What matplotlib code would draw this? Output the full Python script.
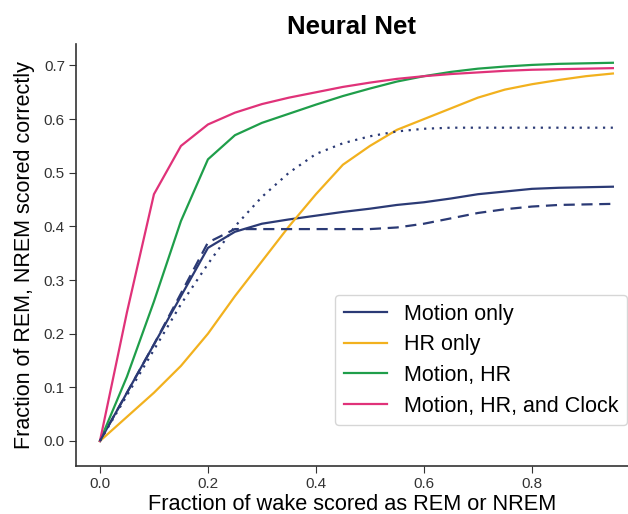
import matplotlib
matplotlib.use("Agg")
import matplotlib.pyplot as plt

plt.rcParams['font.family'] = ['Liberation Sans', 'DejaVu Sans']

x = [0.0, 0.05, 0.1, 0.15, 0.2, 0.25, 0.3, 0.35, 0.4, 0.45, 0.5,
     0.55, 0.6, 0.65, 0.7, 0.75, 0.8, 0.85, 0.9, 0.95]

motion_only = [0.0, 0.09, 0.18, 0.27, 0.36, 0.39, 0.405, 0.413, 0.42, 0.427, 0.433,
               0.44, 0.445, 0.452, 0.46, 0.465, 0.47, 0.472, 0.473, 0.474]
motion_dashed = [0.0, 0.09, 0.18, 0.275, 0.37, 0.395, 0.395, 0.395, 0.395, 0.395, 0.395,
                 0.398, 0.405, 0.415, 0.425, 0.432, 0.437, 0.44, 0.441, 0.442]
motion_dotted = [0.0, 0.085, 0.17, 0.255, 0.33, 0.40, 0.455, 0.50, 0.535, 0.555, 0.568,
                 0.577, 0.582, 0.584, 0.584, 0.584, 0.584, 0.584, 0.584, 0.584]
hr_only = [0.0, 0.045, 0.09, 0.14, 0.20, 0.27, 0.335, 0.40, 0.46, 0.515, 0.55,
           0.58, 0.60, 0.62, 0.64, 0.655, 0.665, 0.673, 0.68, 0.685]
motion_hr = [0.0, 0.12, 0.26, 0.41, 0.525, 0.57, 0.593, 0.61, 0.627, 0.643, 0.657,
             0.67, 0.68, 0.688, 0.694, 0.698, 0.701, 0.703, 0.704, 0.705]
motion_hr_clock = [0.0, 0.24, 0.46, 0.55, 0.59, 0.612, 0.628, 0.64, 0.65, 0.66, 0.668,
                   0.675, 0.68, 0.684, 0.687, 0.69, 0.692, 0.693, 0.694, 0.695]

labels = ["Motion only", "HR only", "Motion, HR", "Motion, HR, and Clock"]
xticks = [0.0, 0.2, 0.4, 0.6, 0.8]
yticks = [0.0, 0.1, 0.2, 0.3, 0.4, 0.5, 0.6, 0.7]

c_blue = "#2b3a75"
c_orange = "#f2b11e"
c_green = "#1f9e4a"
c_pink = "#e03279"

fig = plt.figure(figsize=(6.28, 5.14), dpi=100)
ax = fig.add_axes([0.121, 0.0934, 0.879, 0.821])

lw = 1.6
ax.plot(x, motion_only, color=c_blue, lw=lw, label=labels[0])
ax.plot(x, hr_only, color=c_orange, lw=lw, label=labels[1])
ax.plot(x, motion_hr, color=c_green, lw=lw, label=labels[2])
ax.plot(x, motion_hr_clock, color=c_pink, lw=lw, label=labels[3])
ax.plot(x, motion_dashed, color=c_blue, lw=lw, ls=(0, (5, 3)))
ax.plot(x, motion_dotted, color=c_blue, lw=lw, ls=(0, (1, 2.5)))

ax.set_xlim(-0.0444, 0.978)
ax.set_ylim(-0.0466, 0.74)
ax.set_xticks(xticks)
ax.set_yticks(yticks)
ax.set_xticklabels([f"{t:.1f}" for t in xticks])
ax.set_yticklabels([f"{t:.1f}" for t in yticks])
ax.tick_params(labelsize=11, colors="#333333", length=5, pad=3)
for s in ["top", "right"]:
    ax.spines[s].set_visible(False)
for s in ["left", "bottom"]:
    ax.spines[s].set_color("#333333")
    ax.spines[s].set_linewidth(1.2)

ax.set_title("Neural Net", fontsize=18.5, fontweight="bold", pad=7)
ax.set_xlabel("Fraction of wake scored as REM or NREM", fontsize=15.7, labelpad=2)
ax.set_ylabel("Fraction of REM, NREM scored correctly", fontsize=15.5, labelpad=6)

leg = ax.legend(loc="upper left", bbox_to_anchor=(335 / 628, 1 - 295 / 514),
                bbox_transform=fig.transFigure, fontsize=15.5, handlelength=2.0,
                handletextpad=0.8, labelspacing=0.45, frameon=True, fancybox=True,
                borderpad=0.4, borderaxespad=0)
leg.get_frame().set_edgecolor("#cccccc")

fig.savefig("out.png", dpi=100)
